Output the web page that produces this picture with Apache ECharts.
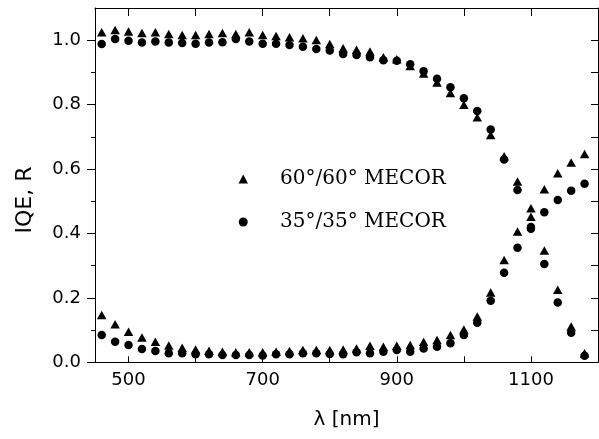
<!DOCTYPE html>
<html>
<head>
<meta charset="utf-8">
<title>IQE, R</title>
<script src="https://cdn.jsdelivr.net/npm/echarts@6.0.0/dist/echarts.min.js"></script>
<style>
  html, body { margin: 0; padding: 0; background: #fff; }
  #chart { width: 599px; height: 439px; }
</style>
</head>
<body>
<div id="chart"></div>
<script>
// 波长 (nm)
var lambda = [460, 480, 500, 520, 540, 560, 580, 600, 620, 640, 660, 680, 700, 720, 740, 760, 780, 800, 820,
  840, 860, 880, 900, 920, 940, 960, 980, 1000, 1020, 1040, 1060, 1080, 1100, 1120, 1140, 1160, 1180];

// 60°/60° MECOR  (三角)
var iqe60 = [1.025, 1.032, 1.027, 1.022, 1.025, 1.019, 1.016, 1.016, 1.019, 1.022, 1.019, 1.025, 1.016, 1.013,
  1.009, 1.006, 1.001, 0.988, 0.975, 0.970, 0.965, 0.947, 0.941, 0.920, 0.897, 0.869, 0.836, 0.800, 0.761,
  0.706, 0.640, 0.561, 0.452, 0.347, 0.225, 0.111, 0.028];
var r60 = [0.147, 0.118, 0.095, 0.077, 0.064, 0.052, 0.045, 0.040, 0.036, 0.033, 0.031, 0.031, 0.031, 0.033,
  0.035, 0.038, 0.038, 0.038, 0.040, 0.043, 0.051, 0.048, 0.051, 0.054, 0.064, 0.069, 0.085, 0.102, 0.142,
  0.217, 0.318, 0.406, 0.478, 0.537, 0.587, 0.620, 0.647];

// 35°/35° MECOR  (圆点)
var iqe35 = [0.988, 1.004, 0.998, 0.993, 0.996, 0.993, 0.991, 0.989, 0.993, 0.994, 1.004, 0.996, 0.989, 0.989,
  0.985, 0.980, 0.973, 0.968, 0.957, 0.954, 0.947, 0.938, 0.936, 0.925, 0.904, 0.880, 0.854, 0.820, 0.780,
  0.723, 0.630, 0.535, 0.420, 0.305, 0.186, 0.092, 0.020];
var r35 = [0.085, 0.064, 0.054, 0.041, 0.035, 0.028, 0.028, 0.025, 0.025, 0.023, 0.023, 0.023, 0.021, 0.025,
  0.025, 0.028, 0.028, 0.026, 0.025, 0.031, 0.028, 0.033, 0.038, 0.033, 0.043, 0.048, 0.059, 0.085, 0.123,
  0.191, 0.278, 0.356, 0.415, 0.466, 0.504, 0.533, 0.554];

// 刻度
var xTicks = [500, 600, 700, 800, 900, 1000, 1100];
var xLabels = [500, 700, 900, 1100];
var yLabels = [0, 0.2, 0.4, 0.6, 0.8, 1.0];
var yMinor = [0.1, 0.3, 0.5, 0.7, 0.9];
var yRight = [0, 0.1, 0.2, 0.3, 0.4, 0.5, 0.6, 0.7, 0.8, 0.9, 1.0];

var name60 = '60°/60° MECOR';
var name35 = '35°/35° MECOR';

var sans = 'DejaVu Sans';
var serif = 'DejaVu Serif';
var black = '#000';

function pairs(ys) {
  var out = [];
  for (var i = 0; i < lambda.length; i++) {
    out.push([lambda[i], ys[i]]);
  }
  return out;
}

function scatter(name, ys, symbol, size) {
  return {
    name: name,
    type: 'scatter',
    symbol: symbol,
    symbolSize: size,
    itemStyle: { color: black, opacity: 1 },
    data: pairs(ys),
    xAxisIndex: 0,
    yAxisIndex: 0
  };
}

// 坐标轴线 (不要放到0上)
var line = { show: true, onZero: false, lineStyle: { color: black, width: 1 } };

var chart = echarts.init(document.getElementById('chart'));

chart.setOption({
  animation: false,
  backgroundColor: '#fff',
  grid: { left: 95, top: 8, width: 503, height: 354.3 },
  legend: {
    orient: 'vertical',
    left: 238.5,
    top: 169,
    padding: 0,
    itemWidth: 9.5,
    itemHeight: 9,
    itemGap: 23,
    itemStyle: { opacity: 1 },
    textStyle: { fontFamily: serif, fontSize: 20, color: black, padding: [0, 0, 0, 27] },
    data: [{ name: name60, icon: 'triangle' }, { name: name35, icon: 'circle' }]
  },
  xAxis: [{
    type: 'value', position: 'bottom', min: 450, max: 1200,
    axisLine: line,
    axisTick: { inside: true, length: 6, customValues: xTicks, lineStyle: { color: black } },
    axisLabel: {
      customValues: xLabels, color: black, fontFamily: sans, fontSize: 18, margin: 9,
      formatter: function (v) { return String(v); }
    },
    splitLine: { show: false },
    name: 'λ [nm]', nameLocation: 'middle', nameGap: 47,
    nameTextStyle: { color: black, fontFamily: sans, fontSize: 20 }
  }, {
    type: 'value', position: 'top', min: 450, max: 1200,
    axisLine: line,
    axisTick: { inside: true, length: 8, customValues: xTicks, lineStyle: { color: black } },
    axisLabel: { show: false },
    splitLine: { show: false }
  }],
  yAxis: [{
    type: 'value', position: 'left', min: 0, max: 1.1,
    axisLine: line,
    axisTick: { inside: false, length: 8, customValues: yLabels, lineStyle: { color: black } },
    axisLabel: {
      customValues: yLabels, color: black, fontFamily: sans, fontSize: 18, margin: 14,
      formatter: function (v) { return v.toFixed(1); }
    },
    splitLine: { show: false }
  }, {
    // 左侧短刻度
    type: 'value', position: 'left', min: 0, max: 1.1,
    axisLine: { show: false, onZero: false },
    axisTick: { inside: false, length: 4, customValues: yMinor, lineStyle: { color: black } },
    axisLabel: { show: false },
    splitLine: { show: false }
  }, {
    type: 'value', position: 'right', min: 0, max: 1.1,
    axisLine: line,
    axisTick: { inside: true, length: 7, customValues: yRight, lineStyle: { color: black } },
    axisLabel: { show: false },
    splitLine: { show: false }
  }],
  graphic: [{
    type: 'text',
    x: 25,
    y: 200,
    rotation: Math.PI / 2,
    style: {
      text: 'IQE, R',
      fontFamily: sans,
      fontSize: 22,
      fill: black,
      textAlign: 'center',
      textVerticalAlign: 'middle'
    }
  }],
  series: [
    scatter(name60, iqe60, 'triangle', [9.5, 8.5]),
    scatter(name60, r60, 'triangle', [9.5, 8.5]),
    scatter(name35, iqe35, 'circle', 8.5),
    scatter(name35, r35, 'circle', 8.5)
  ]
});
</script>
</body>
</html>
